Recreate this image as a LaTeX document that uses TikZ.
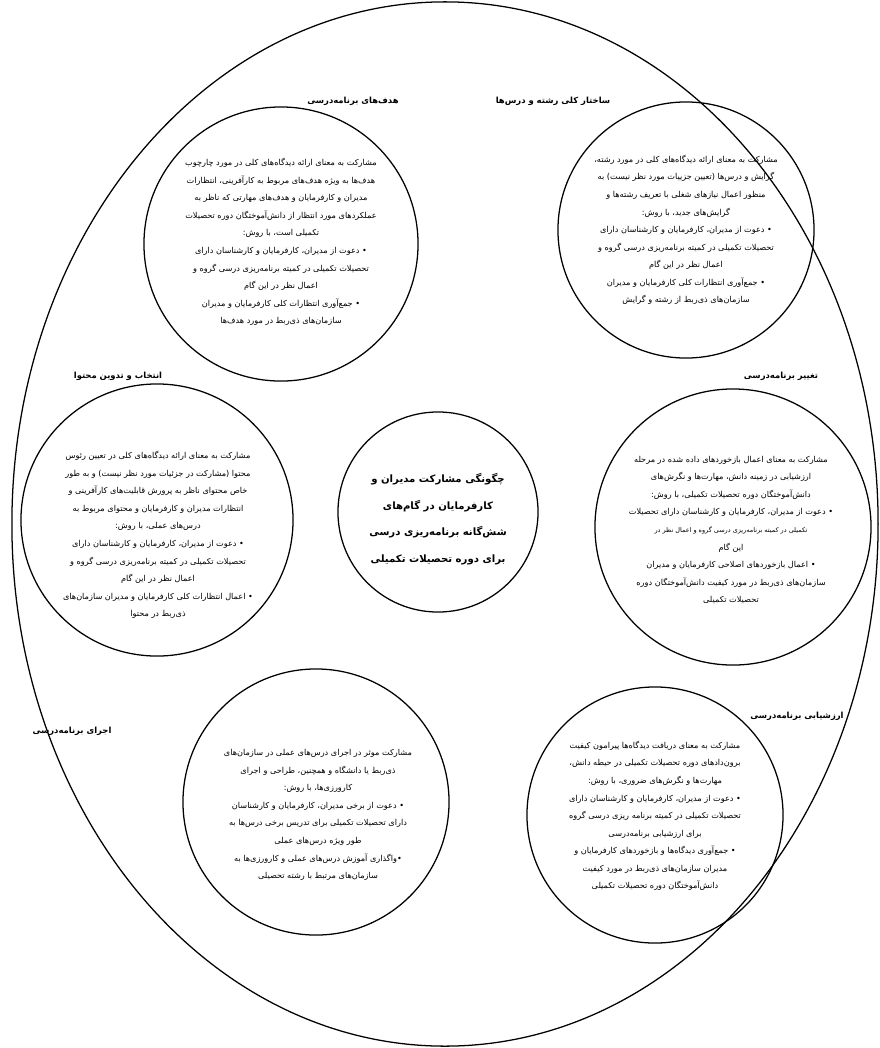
\documentclass[tikz,border=0pt]{standalone}
\usepackage{fontspec}
\usetikzlibrary{shapes.geometric}
\newfontfamily\fafont[Script=Arabic]{DejaVu Sans}
\TeXXeTstate=1
\newcommand\rl[1]{\beginR #1\endR}

\tikzset{
  stage/.style={draw, circle, line width=0.9pt, minimum size=#1, inner sep=0pt},
  body/.style={align=center, inner sep=0pt, font=\fafont\fontsize{5.8}{12.5}\selectfont},
  head/.style={inner sep=0pt, font=\fafont\bfseries\fontsize{6}{8}\selectfont},
}

\begin{document}
\begin{tikzpicture}[x=0.025cm, y=-0.025cm]
\useasboundingbox (0,0) rectangle (880,1048);
\node[draw, ellipse, line width=0.9pt, minimum width=21.65cm, minimum height=26.1cm, inner sep=0pt] (frame) at (445,524) {};

% the six steps
\node[stage=6.85cm] (goals) at (281,244) {};
\node[stage=6.4cm] (structure) at (686,230) {};
\node[stage=6.8cm] (content) at (157,520) {};
\node[stage=5cm] (core) at (438,512) {};
\node[stage=6.9cm] (change) at (733,527) {};
\node[stage=6.65cm] (run) at (316,802) {};
\node[stage=6.4cm] (assess) at (655,815) {};

% titles
\node[head] (goalsHead) at (353,101) {\rl{هدف‌های برنامه‌درسی}};
\node[head] (structureHead) at (553,101) {\rl{ساختار کلی رشته و درس‌ها}};
\node[head] (contentHead) at (118,376) {\rl{انتخاب و تدوین محتوا}};
\node[head] (changeHead) at (781,376) {\rl{تغییر برنامه‌درسی}};
\node[head] (runHead) at (72,731) {\rl{اجرای برنامه‌درسی}};
\node[head] (assessHead) at (797,716) {\rl{ارزشیابی برنامه‌درسی}};

% texts
\node[body] (goalsText) at (281,242) {%
\rl{مشارکت به معنای ارائه دیدگاه‌های کلی در مورد چارچوب}\\
\rl{هدف‌ها به ویژه هدف‌های مربوط به کارآفرینی، انتظارات}\\
\rl{مدیران و کارفرمایان و هدف‌های مهارتی که ناظر به}\\
\rl{عملکردهای مورد انتظار از دانش‌آموختگان دوره تحصیلات}\\
\rl{تکمیلی است، با روش:}\\
\rl{• دعوت از مدیران، کارفرمایان و کارشناسان دارای}\\
\rl{تحصیلات تکمیلی در کمیته برنامه‌ریزی درسی گروه و}\\
\rl{اعمال نظر در این گام}\\
\rl{• جمع‌آوری انتظارات کلی کارفرمایان و مدیران}\\
\rl{سازمان‌های ذی‌ربط در مورد هدف‌ها}};

\node[body] (structureText) at (686,230) {%
\rl{مشارکت به معنای ارائه دیدگاه‌های کلی در مورد رشته،}\\
\rl{گرایش و درس‌ها (تعیین جزییات مورد نظر نیست) به}\\
\rl{منظور اعمال نیازهای شغلی با تعریف رشته‌ها و}\\
\rl{گرایش‌های جدید، با روش:}\\
\rl{• دعوت از مدیران، کارفرمایان و کارشناسان دارای}\\
\rl{تحصیلات تکمیلی در کمیته برنامه‌ریزی درسی گروه و}\\
\rl{اعمال نظر در این گام}\\
\rl{• جمع‌آوری انتظارات کلی کارفرمایان و مدیران}\\
\rl{سازمان‌های ذی‌ربط از رشته و گرایش}};

\node[body] (contentText) at (158,535) {%
\rl{مشارکت به معنای ارائه دیدگاه‌های کلی در تعیین رئوس}\\
\rl{محتوا (مشارکت در جزئیات مورد نظر نیست) و به طور}\\
\rl{خاص محتوای ناظر به پرورش قابلیت‌های کارآفرینی و}\\
\rl{انتظارات مدیران و کارفرمایان و محتوای مربوط به}\\
\rl{درس‌های عملی، با روش:}\\
\rl{• دعوت از مدیران، کارفرمایان و کارشناسان دارای}\\
\rl{تحصیلات تکمیلی در کمیته برنامه‌ریزی درسی گروه و}\\
\rl{اعمال نظر در این گام}\\
\rl{• اعمال انتظارات کلی کارفرمایان و مدیران سازمان‌های}\\
\rl{ذی‌ربط در محتوا}};

\node[body, font=\fafont\bfseries\fontsize{7.2}{19}\selectfont] (coreText) at (438,519) {%
\rl{چگونگی مشارکت مدیران و}\\
\rl{کارفرمایان در گام‌های}\\
\rl{شش‌گانه برنامه‌ریزی درسی}\\
\rl{برای دوره تحصیلات تکمیلی}};

\node[body] (changeText) at (731,530) {%
\rl{مشارکت به معنای اعمال بازخوردهای داده شده در مرحله}\\
\rl{ارزشیابی در زمینه دانش، مهارت‌ها و نگرش‌های}\\
\rl{دانش‌آموختگان دوره تحصیلات تکمیلی، با روش:}\\
\rl{• دعوت از مدیران، کارفرمایان و کارشناسان دارای تحصیلات}\\
{\fontsize{4.6}{12.5}\selectfont\rl{تکمیلی در کمیته برنامه‌ریزی درسی گروه و اعمال نظر در}}\\
\rl{این گام}\\
\rl{• اعمال بازخوردهای اصلاحی کارفرمایان و مدیران}\\
\rl{سازمان‌های ذی‌ربط در مورد کیفیت دانش‌آموختگان دوره}\\
\rl{تحصیلات تکمیلی}};

\node[body] (runText) at (318,815) {%
\rl{مشارکت موثر در اجرای درس‌های عملی در سازمان‌های}\\
\rl{ذی‌ربط یا دانشگاه و همچنین، طراحی و اجرای}\\
\rl{کارورزی‌ها، با روش:}\\
\rl{• دعوت از برخی مدیران، کارفرمایان و کارشناسان}\\
\rl{دارای تحصیلات تکمیلی برای تدریس برخی درس‌ها به}\\
\rl{طور ویژه درس‌های عملی}\\
\rl{•واگذاری آموزش درس‌های عملی و کارورزی‌ها به}\\
\rl{سازمان‌های مرتبط با رشته تحصیلی}};

\node[body] (assessText) at (655,816) {%
\rl{مشارکت به معنای دریافت دیدگاه‌ها پیرامون کیفیت}\\
\rl{برون‌دادهای دوره تحصیلات تکمیلی در حیطه دانش،}\\
\rl{مهارت‌ها و نگرش‌های ضروری، با روش:}\\
\rl{• دعوت از مدیران، کارفرمایان و کارشناسان دارای}\\
\rl{تحصیلات تکمیلی در کمیته برنامه ریزی درسی گروه}\\
\rl{برای ارزشیابی برنامه‌درسی}\\
\rl{• جمع‌آوری دیدگاه‌ها و بازخوردهای کارفرمایان و}\\
\rl{مدیران سازمان‌های ذی‌ربط در مورد کیفیت}\\
\rl{دانش‌آموختگان دوره تحصیلات تکمیلی}};
\end{tikzpicture}
\end{document}
